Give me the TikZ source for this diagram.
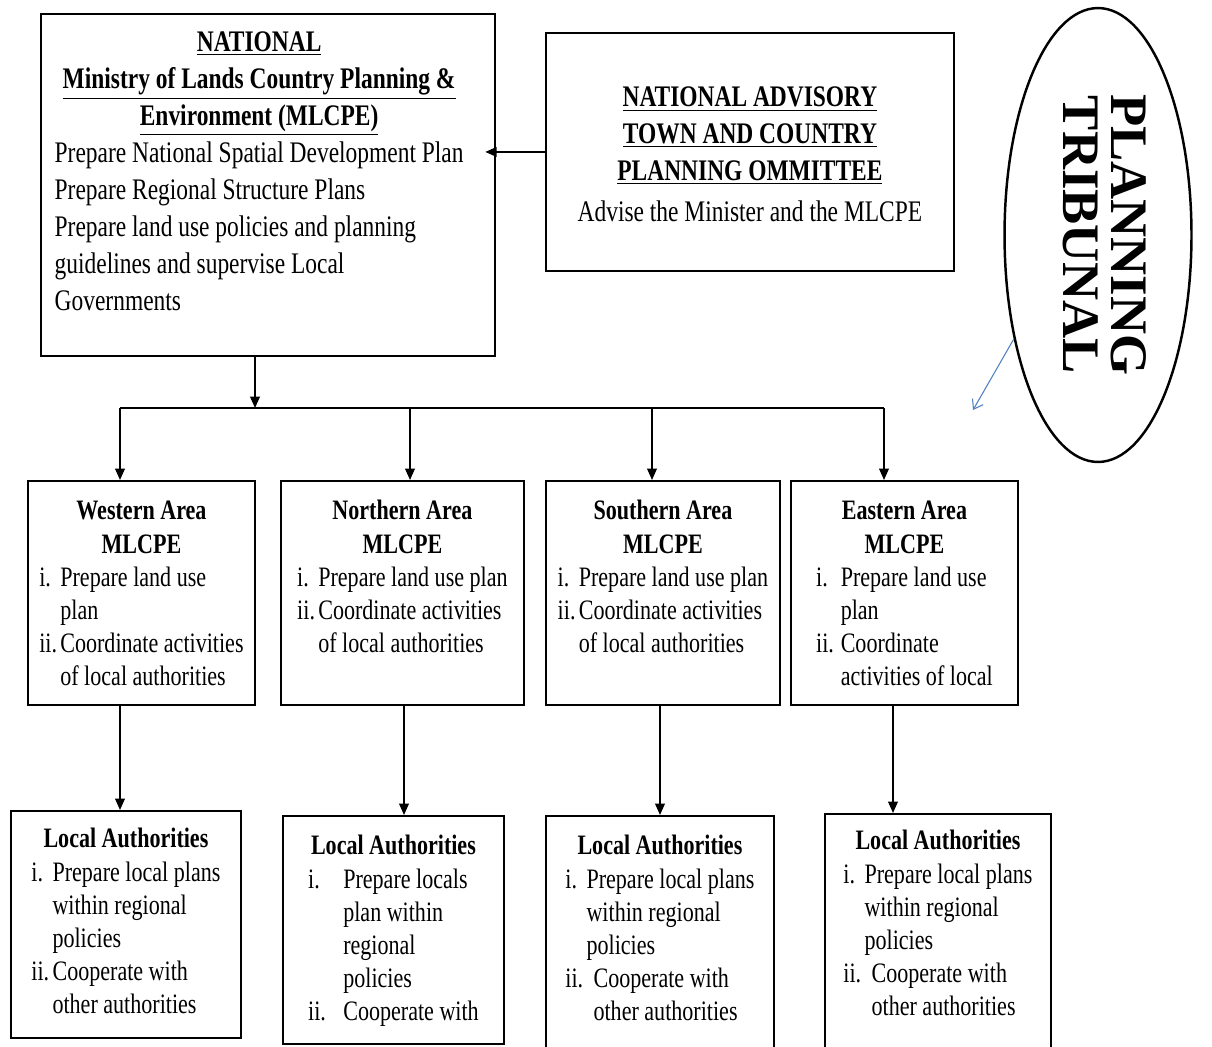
\documentclass[tikz,border=0pt]{standalone}
\usepackage{fontspec}
\setmainfont{Liberation Serif}[FakeStretch=0.785]
\newfontfamily\tribfont{Liberation Serif}
\usepackage{graphicx}
\usetikzlibrary{shapes.geometric, arrows.meta}
\definecolor{tribblue}{RGB}{79,129,189}
\newcommand{\lbl}[2][12pt]{\makebox[#1][l]{#2}}
\newcommand{\cont}[1][12pt]{\hspace*{#1}}
\newcommand{\ctr}[1]{\multicolumn{1}{@{}c@{}}{#1}}
\tikzset{
  topbox/.style = {
    rectangle, draw=black, line width=1.1pt,
    anchor=north west, inner sep=0pt
  },
  bigtext/.style = {font=\fontsize{17}{21}\selectfont},
  smalltext/.style = {font=\fontsize{16}{18.8}\selectfont},
  tribunal/.style = {
    ellipse, draw=black, line width=1.4pt, inner sep=0pt,
    minimum width=3.74cm, minimum height=9.08cm,
    font=\tribfont\bfseries\fontsize{30}{25}\selectfont
  },
  arrow/.style = {-{Triangle[length=6.5pt,width=5.5pt]}, line width=1pt},
  line/.style = {line width=1pt},
  tribarrow/.style = {-{Straight Barb[length=5pt,width=7pt]}, draw=tribblue, line width=0.6pt}
}
\begin{document}
\begin{tikzpicture}[x=0.02cm, y=-0.02cm]

  \useasboundingbox[fill=white] (0,0) rectangle (1212,1046);

  % national level
  \node[topbox, bigtext, minimum width=9.08cm, text height=0.76cm, text depth=6.08cm]
    (national) at (40,13) {\begin{tabular}[t]{@{}l@{}}
      \ctr{\textbf{\underline{NATIONAL}}}\\
      \ctr{\textbf{\underline{Ministry of Lands Country Planning \&}}}\\
      \ctr{\textbf{\underline{Environment (MLCPE)}}}\\
      Prepare National Spatial Development Plan\\
      Prepare Regional Structure Plans\\
      Prepare land use policies and planning\\
      guidelines and supervise Local\\
      Governments
    \end{tabular}\rule{10pt}{0pt}};
  \node[topbox, bigtext, minimum width=8.16cm, text height=1.48cm, text depth=3.28cm]
    (advisory) at (545,32) {\begin{tabular}[t]{@{}c@{}}
      \textbf{\underline{NATIONAL ADVISORY}}\\
      \textbf{\underline{TOWN AND COUNTRY}}\\
      \textbf{\underline{PLANNING OMMITTEE}}\\[2pt]
      Advise the Minister and the MLCPE
    \end{tabular}};
  \node[tribunal] (tribunal) at (1098,235)
    {\rotatebox{-90}{\begin{tabular}{@{}c@{}}PLANNING\\TRIBUNAL\end{tabular}}};

  % area level
  \node[topbox, smalltext, minimum width=4.54cm, text height=0.78cm, text depth=3.7cm]
    (westA) at (27,480) {\begin{tabular}[t]{@{}l@{}}
      \ctr{\textbf{Western Area}}\\
      \ctr{\textbf{MLCPE}}\\
      \lbl{i.}Prepare land use\\
      \cont plan\\
      \lbl{ii.}Coordinate activities\\
      \cont of local authorities
    \end{tabular}};
  \node[topbox, smalltext, minimum width=4.86cm, text height=0.78cm, text depth=3.7cm]
    (northA) at (280,480) {\begin{tabular}[t]{@{}l@{}}
      \ctr{\textbf{Northern Area}}\\
      \ctr{\textbf{MLCPE}}\\
      \lbl{i.}Prepare land use plan\\
      \lbl{ii.}Coordinate activities\\
      \cont of local authorities
    \end{tabular}};
  \node[topbox, smalltext, minimum width=4.68cm, text height=0.78cm, text depth=3.7cm]
    (southA) at (545,480) {\begin{tabular}[t]{@{}l@{}}
      \ctr{\textbf{Southern Area}}\\
      \ctr{\textbf{MLCPE}}\\
      \lbl{i.}Prepare land use plan\\
      \lbl{ii.}Coordinate activities\\
      \cont of local authorities
    \end{tabular}};
  \node[topbox, smalltext, minimum width=4.54cm, text height=0.78cm, text depth=3.7cm]
    (eastA) at (790,480) {\begin{tabular}[t]{@{}l@{}}
      \ctr{\textbf{Eastern Area}}\\
      \ctr{\textbf{MLCPE}}\\
      \lbl[14pt]{i.}Prepare land use\\
      \cont[14pt]plan\\
      \lbl[14pt]{ii.}Coordinate\\
      \cont[14pt]activities of local
    \end{tabular}};

  % local level
  \node[topbox, smalltext, minimum width=4.6cm, text height=0.74cm, text depth=3.8cm]
    (westL) at (10,810) {\begin{tabular}[t]{@{}l@{}}
      \ctr{\textbf{Local Authorities}}\\
      \lbl{i.}Prepare local plans\\
      \cont within regional\\
      \cont policies\\
      \lbl{ii.}Cooperate with\\
      \cont other authorities
    \end{tabular}};
  \node[topbox, smalltext, minimum width=4.42cm, text height=0.78cm, text depth=3.78cm]
    (northL) at (282,815) {\begin{tabular}[t]{@{}l@{}}
      \ctr{\textbf{Local Authorities}}\\
      \lbl[20pt]{i.}Prepare locals\\
      \cont[20pt]plan within\\
      \cont[20pt]regional\\
      \cont[20pt]policies\\
      \lbl[20pt]{ii.}Cooperate with
    \end{tabular}};
  \node[topbox, smalltext, minimum width=4.56cm, text height=0.78cm, text depth=4.22cm]
    (southL) at (545,815) {\begin{tabular}[t]{@{}l@{}}
      \ctr{\textbf{Local Authorities}}\\
      \lbl{i.}Prepare local plans\\
      \cont within regional\\
      \cont policies\\
      \lbl[16pt]{ii.}Cooperate with\\
      \cont[16pt]other authorities
    \end{tabular}};
  \node[topbox, smalltext, minimum width=4.52cm, text height=0.72cm, text depth=4.28cm]
    (eastL) at (824,813) {\begin{tabular}[t]{@{}l@{}}
      \ctr{\textbf{Local Authorities}}\\
      \lbl{i.}Prepare local plans\\
      \cont within regional\\
      \cont policies\\
      \lbl[16pt]{ii.}Cooperate with\\
      \cont[16pt]other authorities
    \end{tabular}};

  % connectors
  \draw[arrow, shorten >=-6pt] (advisory.west) -- (advisory.west -| national.east);
  \coordinate (busmid) at (255,408);
  \draw[arrow] (busmid |- national.south) -- (busmid);
  \coordinate (busW) at (120,408);
  \coordinate (busE) at (884,408);
  \draw[line] (busW) -- (busE);
  \foreach \n/\x in {westA/120, northA/410, southA/652, eastA/884}{
    \coordinate (tap) at (\x,408);
    \draw[arrow] (tap) -- (tap |- \n.north);
  }
  \foreach \a/\l/\x in {westA/westL/120, northA/northL/404, southA/southL/660, eastA/eastL/893}{
    \coordinate (drop) at (\x,0);
    \draw[arrow] (drop |- \a.south) -- (drop |- \l.north);
  }
  \coordinate (tribtip) at (973,410);
  \draw[tribarrow] (tribunal.231) -- (tribtip);

\end{tikzpicture}
\end{document}
